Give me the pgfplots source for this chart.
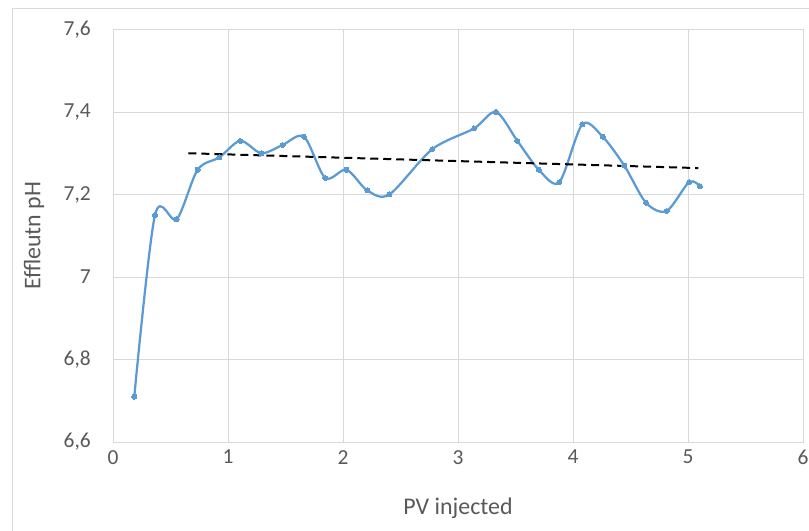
\documentclass[border=0pt]{standalone}
\usepackage{fontspec}
\setmainfont{Carlito}
\usepackage{pgfplots}
\pgfplotsset{compat=1.18}
\definecolor{serblue}{HTML}{5B9BD5}
\definecolor{gridgray}{HTML}{D9D9D9}
\definecolor{txtgray}{HTML}{595959}
\begin{document}
\begin{tikzpicture}[x=1bp,y=1bp]
\useasboundingbox (0,0) rectangle (809,531);
\draw[gridgray, line width=0.75bp] (12,-5) -- (12,523) -- (815,523);
\begin{axis}[
  at={(113bp,89bp)}, anchor=south west,
  width=690bp, height=412.5bp, scale only axis,
  xmin=0, xmax=6, ymin=6.6, ymax=7.6,
  xtick={0,1,2,3,4,5,6}, ytick={6.6,6.8,7,7.2,7.4,7.6},
  grid=major, major grid style={gridgray, line width=0.75bp},
  axis line style={gridgray, line width=0.75bp},
  tick style={draw=none},
  ticklabel style={font=\fontsize{21.5}{24}\selectfont, text=txtgray, inner sep=0pt},
  yticklabel style={anchor=east, xshift=-22bp},
  xticklabel style={anchor=north, yshift=-8bp},
  /pgf/number format/use comma,
  /pgf/number format/assume math mode=true,
  xlabel={PV injected}, ylabel={Effleutn pH},
  every axis x label/.style={at={(axis description cs:0.5,-0.16)}, anchor=center, font=\fontsize{24}{28}\selectfont, text=txtgray},
  every axis y label/.style={at={(axis description cs:-0.1145,0.5)}, rotate=90, anchor=center, font=\fontsize{24}{28}\selectfont, text=txtgray},
]
\addplot[serblue, line width=2.25bp, smooth, mark=*, mark size=2.5bp, mark options={fill=serblue, draw=serblue, line width=0pt}] coordinates {
(0.185,6.71) (0.365,7.15) (0.554,7.14) (0.736,7.26) (0.925,7.29)
(1.107,7.33) (1.29,7.30) (1.475,7.32) (1.661,7.34) (1.846,7.24)
(2.03,7.26) (2.211,7.21) (2.403,7.20) (2.777,7.31) (3.139,7.36)
(3.33,7.40) (3.516,7.33) (3.702,7.26) (3.881,7.23) (4.081,7.37)
(4.258,7.34) (4.446,7.27) (4.635,7.18) (4.814,7.16) (5.009,7.23)
(5.104,7.22)
};
\addplot[black, line width=2bp, dash pattern=on 8bp off 5bp] coordinates {(0.655,7.300) (5.09,7.264)};
\end{axis}
\end{tikzpicture}
\end{document}
